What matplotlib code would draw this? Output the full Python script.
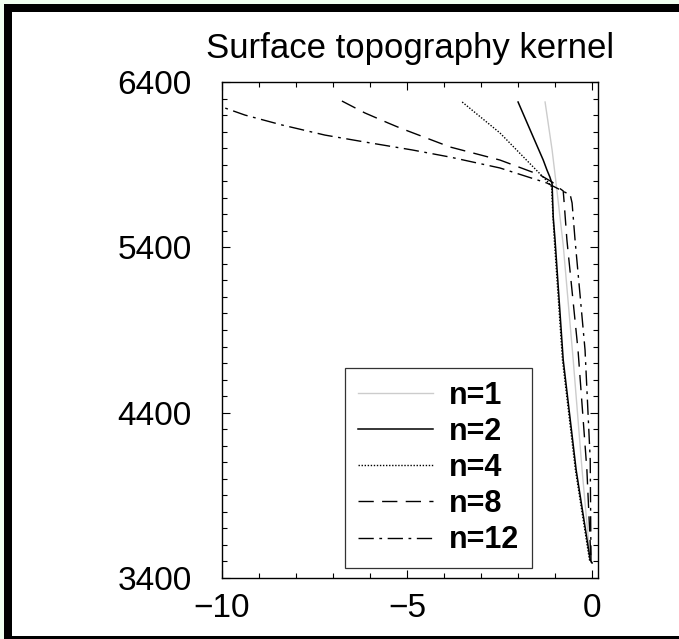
import numpy as np
import matplotlib.pyplot as plt
from matplotlib.patches import Rectangle
from matplotlib.ticker import MultipleLocator, FixedLocator

plt.rcParams['font.family'] = ['Liberation Sans', 'DejaVu Sans']

# Kernel values (x) against radius (km)
n1_r = [6279, 5989, 5783, 5686, 5414, 4719, 4053, 3509, 3491]
n1_x = [-1.27, -1.08, -0.97, -0.92, -0.78, -0.51, -0.27, -0.05, 0.0]

n2_r = [6279, 6067, 5928, 5868, 5825, 5783, 5584, 5444, 4719, 4053, 3509, 3491]
n2_x = [-2.00, -1.59, -1.32, -1.22, -1.14, -1.08, -1.05, -1.00, -0.78, -0.43, -0.05, 0.0]

n4_r = [6279, 6092, 5886, 5795, 5765, 5686, 5444, 4719, 4053, 3509, 3491]
n4_x = [-3.51, -2.49, -1.59, -1.19, -1.09, -1.08, -1.02, -0.80, -0.45, -0.07, 0.0]

n8_r = [6285, 6213, 6152, 6122, 6007, 5928, 5838, 5795, 5759, 5741, 5686, 5444, 4779, 4053, 3509, 3491]
n8_x = [-6.76, -6.14, -5.51, -5.19, -3.84, -2.49, -1.41, -1.08, -0.89, -0.78, -0.76, -0.68, -0.38, -0.14, -0.03, 0.0]

n12_r = [6279, 6249, 6200, 6140, 6079, 6037, 5989, 5946, 5880, 5789, 5717, 5668, 5444, 4779, 4114, 3509, 3491]
n12_x = [-10.45, -10.0, -9.38, -8.38, -7.22, -6.14, -4.86, -3.84, -2.49, -1.22, -0.59, -0.54, -0.46, -0.19, -0.05, -0.03, 0.0]

labels = ['n=1', 'n=2', 'n=4', 'n=8', 'n=12']
yticks = [3400, 4400, 5400, 6400]
xticks = [-10, -5, 0]

W, H = 679, 639
fig = plt.figure(figsize=(W / 100, H / 100), dpi=100, facecolor='#f0fff0')

# frame around the picture (black border, white inside)
fig.add_artist(Rectangle((4 / W, 0), 1.0, (H - 4) / H, transform=fig.transFigure,
                         facecolor='black', edgecolor='none', zorder=-2))
fig.add_artist(Rectangle((12 / W, 3 / H), 1.0, (H - 15) / H, transform=fig.transFigure,
                         facecolor='white', edgecolor='none', zorder=-1))

ax = fig.add_axes([222 / W, (H - 578) / H, 376 / W, 496 / H])
ax.plot(n1_x, n1_r, color='#cccccc', lw=1.0, label=labels[0])
ax.plot(n2_x, n2_r, color='black', lw=1.1, label=labels[1])
ax.plot(n4_x, n4_r, color='black', lw=1.0, ls=(0, (1, 1.2)), label=labels[2])
ax.plot(n8_x, n8_r, color='black', lw=1.0, ls=(0, (11, 6)), label=labels[3])
ax.plot(n12_x, n12_r, color='black', lw=1.0, ls=(0, (11, 4, 2, 4)), label=labels[4])

ax.set_xlim(-10, 0.16)
ax.set_ylim(3400, 6400)
ax.xaxis.set_major_locator(FixedLocator(xticks))
ax.xaxis.set_minor_locator(MultipleLocator(1))
ax.yaxis.set_major_locator(FixedLocator(yticks))
ax.yaxis.set_minor_locator(MultipleLocator(100))
ax.set_xticklabels(['\u221210', '\u22125', '0'])
ax.tick_params(which='both', direction='in', top=True, right=True, width=0.8)
ax.tick_params(which='major', length=6)
ax.tick_params(which='minor', length=3.5)
ax.tick_params(axis='x', labelsize=24, pad=11)
ax.tick_params(axis='y', labelsize=24, pad=22)
for s in ax.spines.values():
    s.set_linewidth(1.0)

ax.set_title('Surface topography kernel', fontsize=25, pad=17)

leg = ax.legend(loc='lower left', bbox_to_anchor=(0.327, 0.020), borderaxespad=0,
                prop={'weight': 'bold', 'size': 22}, handlelength=2.45, handletextpad=0.52,
                borderpad=0.42, labelspacing=0.2, fancybox=False, framealpha=1,
                edgecolor='#333333')
leg.get_frame().set_linewidth(0.9)

fig.savefig('out.png', dpi=100, facecolor=fig.get_facecolor())
